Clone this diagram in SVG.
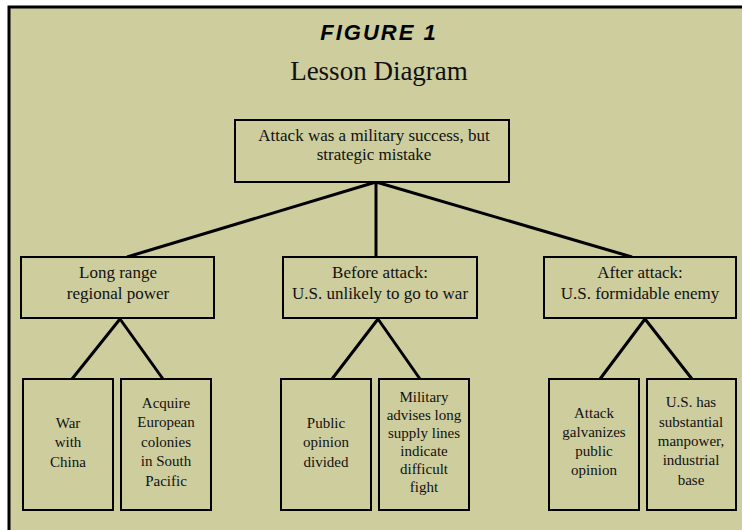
<svg xmlns="http://www.w3.org/2000/svg" width="742" height="530" viewBox="0 0 742 530">
<style>
.box{fill:#cdcd9e;stroke:#000;stroke-width:2}
.t{font-family:"Liberation Serif","Times New Roman",serif;font-size:15px;fill:#111;text-anchor:middle}
.L{font-size:17px}
.c{stroke:#000;stroke-width:3;fill:none;stroke-linecap:butt}
</style>
<rect x="0" y="0" width="742" height="530" fill="#ffffff"/>
<rect x="9" y="7" width="745" height="535" fill="#cdcd9e" stroke="#000" stroke-width="3"/>
<g id="title">
<text x="379" y="40" font-family="'Liberation Sans',Arial,sans-serif" font-size="22" font-weight="900" font-style="italic" text-anchor="middle" fill="#000" letter-spacing="2">FIGURE 1</text>
<text x="379" y="80" font-family="'Liberation Serif','Times New Roman',serif" font-size="27" text-anchor="middle" fill="#111">Lesson Diagram</text>
</g>
<g id="connectors">
<path class="c" d="M376,182 L127,257"/>
<path class="c" d="M376,182 L376,257"/>
<path class="c" d="M376,182 L632,257"/>
<path class="c" d="M120,319 L72,379 M120,319 L163,379"/>
<path class="c" d="M378,319 L332,379 M378,319 L420,379"/>
<path class="c" d="M645,319 L600,379 M645,319 L692,379"/>
</g>
<g id="root">
<rect class="box" x="235" y="120" width="274" height="62"/>
<text class="t L" x="374" y="141">Attack was a military success, but</text>
<text class="t L" x="374" y="160">strategic mistake</text>
</g>
<g id="n-long-range">
<rect class="box" x="21" y="257" width="193" height="61"/>
<text class="t L" x="118" y="278">Long range</text>
<text class="t L" x="118" y="299">regional power</text>
</g>
<g id="n-before">
<rect class="box" x="283" y="257" width="194" height="61"/>
<text class="t L" x="380" y="278">Before attack:</text>
<text class="t L" x="380" y="299">U.S. unlikely to go to war</text>
</g>
<g id="n-after">
<rect class="box" x="544" y="257" width="192" height="61"/>
<text class="t L" x="640" y="278">After attack:</text>
<text class="t L" x="640" y="299">U.S. formidable enemy</text>
</g>
<g id="n-war-china">
<rect class="box" x="23" y="379" width="90" height="131"/>
<text class="t" x="68" y="428">War</text>
<text class="t" x="68" y="447">with</text>
<text class="t" x="68" y="467">China</text>
</g>
<g id="n-acquire">
<rect class="box" x="121" y="379" width="90" height="131"/>
<text class="t" x="166" y="408">Acquire</text>
<text class="t" x="166" y="427">European</text>
<text class="t" x="166" y="447">colonies</text>
<text class="t" x="166" y="466">in South</text>
<text class="t" x="166" y="486">Pacific</text>
</g>
<g id="n-public-divided">
<rect class="box" x="281" y="379" width="90" height="131"/>
<text class="t" x="326" y="428">Public</text>
<text class="t" x="326" y="447">opinion</text>
<text class="t" x="326" y="467">divided</text>
</g>
<g id="n-military">
<rect class="box" x="379" y="379" width="90" height="131"/>
<text class="t" x="424" y="402">Military</text>
<text class="t" x="424" y="420">advises long</text>
<text class="t" x="424" y="438">supply lines</text>
<text class="t" x="424" y="456">indicate</text>
<text class="t" x="424" y="474">difficult</text>
<text class="t" x="424" y="492">fight</text>
</g>
<g id="n-galvanizes">
<rect class="box" x="549" y="379" width="90" height="131"/>
<text class="t" x="594" y="418">Attack</text>
<text class="t" x="594" y="437">galvanizes</text>
<text class="t" x="594" y="456">public</text>
<text class="t" x="594" y="475">opinion</text>
</g>
<g id="n-manpower">
<rect class="box" x="647" y="379" width="89" height="131"/>
<text class="t" x="691" y="407">U.S. has</text>
<text class="t" x="691" y="427">substantial</text>
<text class="t" x="691" y="446">manpower,</text>
<text class="t" x="691" y="465">industrial</text>
<text class="t" x="691" y="485">base</text>
</g>
</svg>
